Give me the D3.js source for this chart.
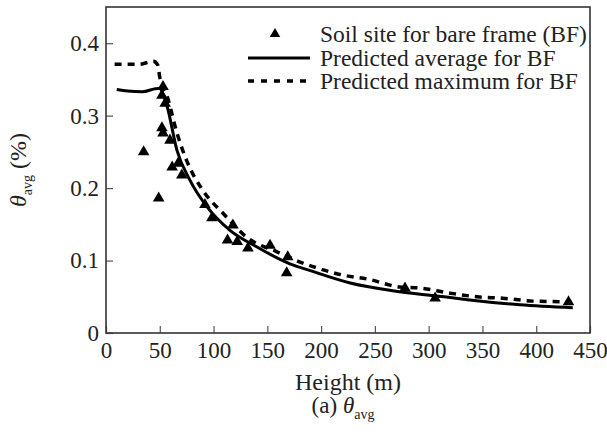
<!DOCTYPE html>
<html>
<head>
<meta charset="utf-8">
<script src="https://cdn.jsdelivr.net/npm/d3@7"></script>
<style>
  body { margin: 0; background: #fff; }
</style>
</head>
<body>
<div id="chart"></div>
<script>
//data
//measured points (height m, theta %)
var soilHeight = [35, 49, 53, 52, 55, 52, 53, 59.5, 61.5, 67, 70.5, 92, 98.5, 113, 118, 122, 132, 152.5, 168, 169, 278, 306, 430];
var soilTheta = [0.250, 0.186, 0.340, 0.328, 0.317, 0.283, 0.276, 0.266, 0.229, 0.234, 0.218, 0.177, 0.159, 0.128, 0.149, 0.126, 0.117, 0.121, 0.083, 0.105, 0.062, 0.048, 0.043];

//predicted average curve
var avgHeight = [10, 20, 34, 45, 50, 53, 57, 66, 78, 94, 115, 140, 171, 190, 227, 273, 320, 336, 385, 434];
var avgTheta = [0.336, 0.334, 0.333, 0.337, 0.338, 0.330, 0.312, 0.252, 0.211, 0.174, 0.142, 0.119, 0.0955, 0.086, 0.069, 0.057, 0.049, 0.046, 0.039, 0.035];

//predicted maximum curve
var maxHeight = [8, 31, 44, 48, 50, 57, 66, 75, 90, 109, 131, 159, 183, 196, 220, 243, 273, 292, 320, 345, 369, 397, 425, 433];
var maxTheta = [0.371, 0.371, 0.375, 0.370, 0.353, 0.326, 0.276, 0.238, 0.197, 0.165, 0.132, 0.112, 0.0965, 0.090, 0.080, 0.0745, 0.0635, 0.062, 0.055, 0.050, 0.048, 0.044, 0.043, 0.042];

var xTicks = [0, 50, 100, 150, 200, 250, 300, 350, 400, 450];
var yTicks = [0, 0.1, 0.2, 0.3, 0.4];

var legendLabels = ["Soil site for bare frame (BF)", "Predicted average for BF", "Predicted maximum for BF"];

//svg dimensions
var svgWidth = 607;
var svgHeight = 437;

var margin = { top: 7, right: 17, bottom: 104, left: 106 };
var width = svgWidth - margin.left - margin.right;
var height = svgHeight - margin.top - margin.bottom;

var serif = "Liberation Serif";

var svg = d3.select("#chart")
    .append("svg")
    .attr("width", svgWidth)
    .attr("height", svgHeight);

var chartGroup = svg.append("g")
    .attr("transform", `translate(${margin.left}, ${margin.top})`);

//scales
var xScale = d3.scaleLinear().domain([0, 450]).range([0, width]);
var yScale = d3.scaleLinear().domain([0, 0.45]).range([height, 0]);

//axes with inward ticks
var bottomAxis = d3.axisBottom(xScale)
    .tickValues(xTicks)
    .tickSize(-7)
    .tickPadding(9)
    .tickFormat(d3.format("d"));

var leftAxis = d3.axisLeft(yScale)
    .tickValues(yTicks)
    .tickSize(-7)
    .tickPadding(7)
    .tickFormat(d => d === 0 ? "0" : d3.format(".1f")(d));

var xAxis = chartGroup.append("g")
    .attr("transform", `translate(0, ${height})`)
    .call(bottomAxis);

var yAxis = chartGroup.append("g")
    .call(leftAxis);

[xAxis, yAxis].forEach(function(ax) {
    ax.attr("font-family", serif);
    ax.select(".domain").remove();
    ax.selectAll(".tick line").attr("stroke", "#555").attr("stroke-width", 1.2);
    ax.selectAll("text")
        .attr("font-size", "23px")
        .attr("fill", "#222");
});

//frame around plot
chartGroup.append("rect")
    .attr("width", width)
    .attr("height", height)
    .attr("fill", "none")
    .attr("stroke", "#333")
    .attr("stroke-width", 1.6);

//lines
var avgData = avgHeight.map((h, i) => [h, avgTheta[i]]);
var maxData = maxHeight.map((h, i) => [h, maxTheta[i]]);

var lineGen = d3.line()
    .x(d => xScale(d[0]))
    .y(d => yScale(d[1]))
    .curve(d3.curveMonotoneX);

chartGroup.append("path")
    .datum(maxData)
    .attr("d", lineGen)
    .attr("fill", "none")
    .attr("stroke", "#000")
    .attr("stroke-width", 3.5)
    .attr("stroke-dasharray", "7,6");

chartGroup.append("path")
    .datum(avgData)
    .attr("d", lineGen)
    .attr("fill", "none")
    .attr("stroke", "#000")
    .attr("stroke-width", 3);

//triangles
var triangle = d3.symbol().type(d3.symbolTriangle).size(58);

chartGroup.selectAll(".soil")
    .data(soilHeight)
    .enter()
    .append("path")
    .classed("soil", true)
    .attr("d", triangle)
    .attr("transform", (d, i) => `translate(${xScale(d)}, ${yScale(soilTheta[i])})`)
    .attr("fill", "#000");

//legend
var legendX = 142;
var legendRows = [27, 51, 74];

chartGroup.append("path")
    .attr("d", d3.symbol().type(d3.symbolTriangle).size(48))
    .attr("transform", `translate(${legendX + 27}, ${legendRows[0]})`)
    .attr("fill", "#000");

chartGroup.append("line")
    .attr("x1", legendX).attr("x2", legendX + 62)
    .attr("y1", legendRows[1]).attr("y2", legendRows[1])
    .attr("stroke", "#000")
    .attr("stroke-width", 3);

chartGroup.append("line")
    .attr("x1", legendX).attr("x2", legendX + 62)
    .attr("y1", legendRows[2]).attr("y2", legendRows[2])
    .attr("stroke", "#000")
    .attr("stroke-width", 3.5)
    .attr("stroke-dasharray", "6,7");

chartGroup.selectAll(".legendText")
    .data(legendLabels)
    .enter()
    .append("text")
    .classed("legendText", true)
    .attr("x", legendX + 72)
    .attr("y", (d, i) => legendRows[i])
    .attr("dy", "0.33em")
    .attr("fill", "#222")
    .attr("font-family", serif)
    .attr("font-size", "23.5px")
    .text(d => d);

//x axis label
svg.append("text")
    .attr("x", margin.left + width / 2)
    .attr("y", 390)
    .attr("text-anchor", "middle")
    .attr("fill", "#222")
    .attr("font-family", serif)
    .attr("font-size", "24px")
    .text("Height (m)");

//caption
var caption = svg.append("text")
    .attr("x", 343)
    .attr("y", 413)
    .attr("text-anchor", "middle")
    .attr("fill", "#222")
    .attr("font-family", serif)
    .attr("font-size", "23px");
caption.append("tspan").text("(a) ");
caption.append("tspan").attr("font-style", "italic").text("θ");
caption.append("tspan").attr("font-size", "14px").attr("dy", 6).text("avg");

//y axis label
var yLabel = svg.append("text")
    .attr("transform", `translate(26, ${margin.top + height / 2}) rotate(-90)`)
    .attr("text-anchor", "middle")
    .attr("fill", "#222")
    .attr("font-family", serif)
    .attr("font-size", "24px");
yLabel.append("tspan").attr("font-style", "italic").text("θ");
yLabel.append("tspan").attr("font-size", "14px").attr("dy", 6).text("avg");
yLabel.append("tspan").attr("dy", -6).text(" (%)");
</script>
</body>
</html>
